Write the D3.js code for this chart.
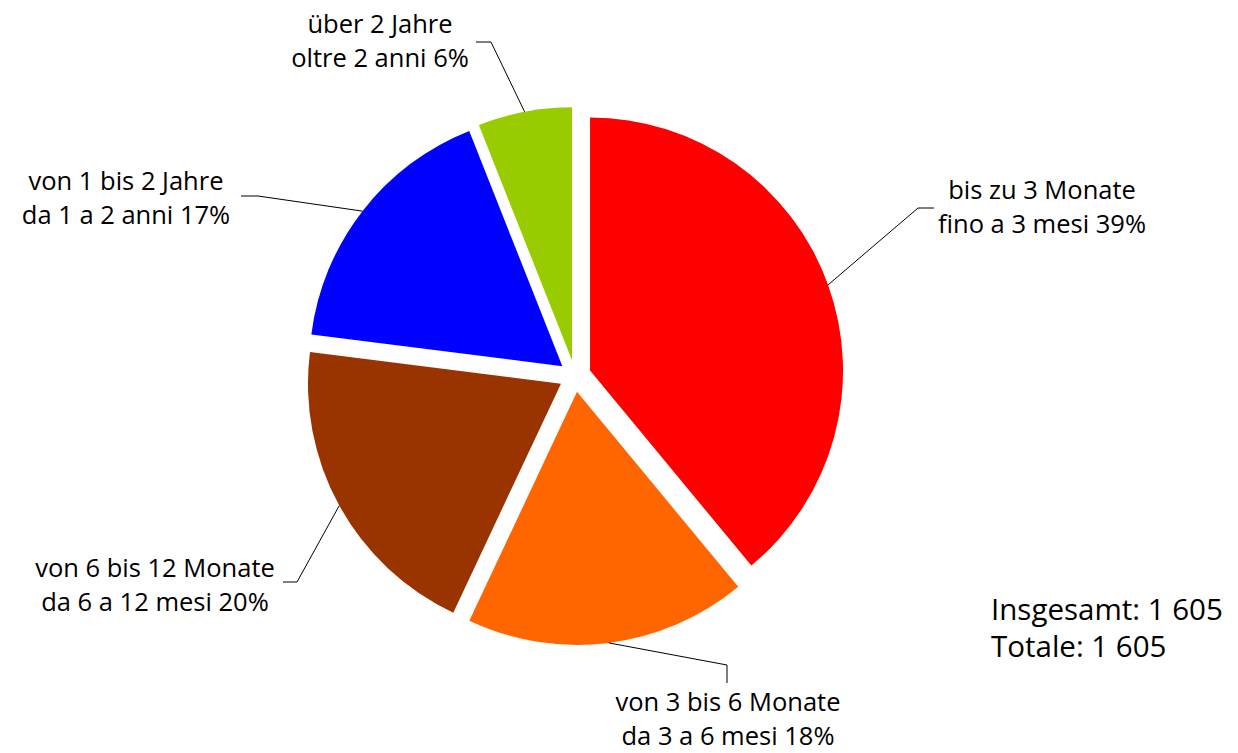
<!DOCTYPE html>
<html>
<head>
<meta charset="utf-8">
<script src="https://cdn.jsdelivr.net/npm/d3@7"></script>
<style>
    body { margin: 0; background: #fff; }
    svg { display: block; }
    text { font-family: "Open Sans", sans-serif; fill: #000; }
</style>
</head>
<body>
<svg id="chart" width="1238" height="753"></svg>
<script>
// Slices, clockwise from 12 o'clock
const labelsDe = ["bis zu 3 Monate", "von 3 bis 6 Monate", "von 6 bis 12 Monate", "von 1 bis 2 Jahre", "über 2 Jahre"];
const labelsIt = ["fino a 3 mesi", "da 3 a 6 mesi", "da 6 a 12 mesi", "da 1 a 2 anni", "oltre 2 anni"];
const shares = [39, 18, 20, 17, 6];
const totalLines = ["Insgesamt: 1 605", "Totale: 1 605"];

const colours = ["#ff0000", "#ff6600", "#993300", "#0000ff", "#99cc00"];

// Label layout: elbow of the leader, end of the leader, text centre and first baseline
const labelLayout = [
    { elbow: [918, 208], end: [934, 208], x: 1042, y: 199 },
    { elbow: [727, 665], end: [727, 683], x: 728, y: 711 },
    { elbow: [297, 582], end: [283, 582], x: 155, y: 577 },
    { elbow: [258, 196], end: [241, 196], x: 126, y: 190 },
    { elbow: [491, 42], end: [476, 42], x: 380, y: 33 },
];

const cx = 575;
const cy = 376;
const radius = 253;
const explode = 16;
const lineGap = 34;

const svg = d3.select("#chart");

const pie = d3.pie().sort(null).value(d => d);
const arcs = pie(shares);

const arc = d3.arc().innerRadius(0).outerRadius(radius);
const edgeArc = d3.arc().innerRadius(radius).outerRadius(radius);

const g = svg.append("g")
    .attr("transform", `translate(${cx}, ${cy})`);

// Offset of each slice along its bisector
function offset(d) {
    const a = (d.startAngle + d.endAngle) / 2;
    return [Math.sin(a) * explode, -Math.cos(a) * explode];
}

g.selectAll("path.slice")
    .data(arcs)
    .join("path")
    .attr("class", "slice")
    .attr("d", arc)
    .attr("transform", d => `translate(${offset(d)})`)
    .attr("fill", (d, i) => colours[i]);

// Leader lines from the middle of each slice's rim
const leader = d3.line();

arcs.forEach((d, i) => {
    const o = offset(d);
    const c = edgeArc.centroid(d);
    const start = [cx + c[0] + o[0], cy + c[1] + o[1]];
    const lay = labelLayout[i];

    svg.append("path")
        .attr("d", leader([start, lay.elbow, lay.end]))
        .attr("fill", "none")
        .attr("stroke", "#000")
        .attr("stroke-width", 1);

    const t = svg.append("text")
        .attr("text-anchor", "middle")
        .style("font-size", "25.5px");

    t.append("tspan")
        .attr("x", lay.x)
        .attr("y", lay.y)
        .text(labelsDe[i]);

    t.append("tspan")
        .attr("x", lay.x)
        .attr("y", lay.y + lineGap)
        .text(`${labelsIt[i]} ${shares[i]}%`);
});

// Total count
svg.selectAll("text.total")
    .data(totalLines)
    .join("text")
    .attr("class", "total")
    .attr("x", 991)
    .attr("y", (d, i) => 620 + i * 37)
    .style("font-size", "29.5px")
    .text(d => d);
</script>
</body>
</html>
